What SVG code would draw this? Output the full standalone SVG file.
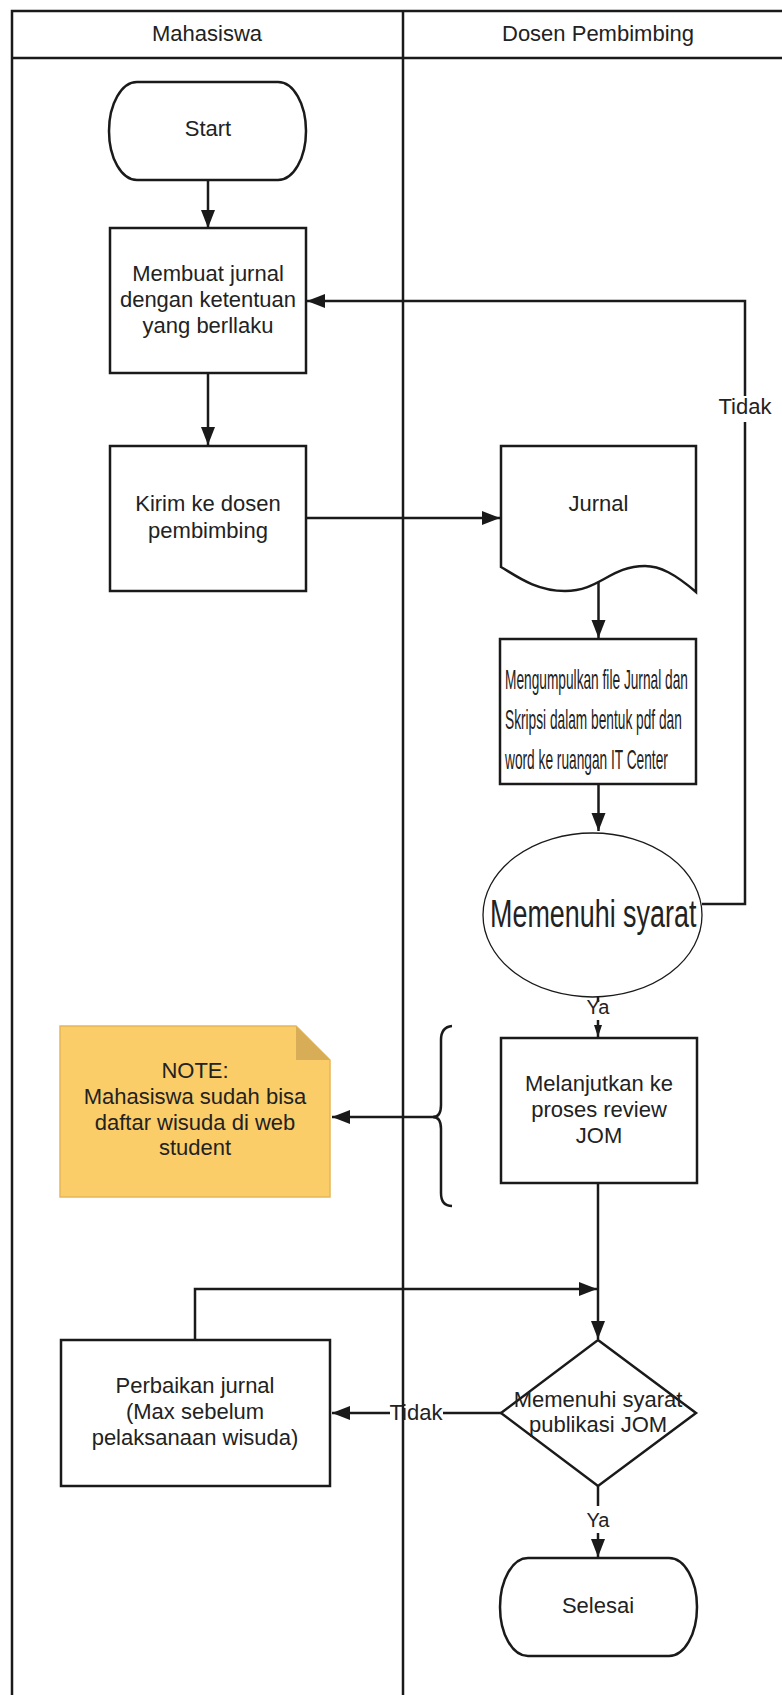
<svg xmlns="http://www.w3.org/2000/svg" width="782" height="1695" viewBox="0 0 782 1695">
<style>
text{font-family:"Liberation Sans",Arial,sans-serif;font-size:22px;fill:#222;text-anchor:middle}
.cond{font-size:28px;text-anchor:start}
.shape{fill:#fff;stroke:#1a1a1a;stroke-width:2.5}
.lane{fill:none;stroke:#1a1a1a;stroke-width:2.5}
.conn{fill:none;stroke:#1a1a1a;stroke-width:2.5}
.lbl{fill:#fff;stroke:none}
</style>
<defs>
<marker id="arr" markerUnits="userSpaceOnUse" markerWidth="20" markerHeight="16" refX="18" refY="7" orient="auto">
<path d="M0,0 L18,7 L0,14 Z" fill="#1a1a1a"/>
</marker>
<marker id="arrs" markerUnits="userSpaceOnUse" markerWidth="14" markerHeight="10" refX="12" refY="4" orient="auto">
<path d="M0,0 L12,4 L0,8 Z" fill="#1a1a1a"/>
</marker>
</defs>
<rect width="782" height="1695" fill="#fff"/>
<g id="lanes">
<path class="lane" d="M782,11 H12 V1700 M12,58 H782 M403,11 V1700"/>
<text x="207" y="41">Mahasiswa</text>
<text x="598" y="41">Dosen Pembimbing</text>
</g>
<g id="connectors">
<path class="conn" d="M208,180 V228" marker-end="url(#arr)"/>
<path class="conn" d="M208,373 V445" marker-end="url(#arr)"/>
<path class="conn" d="M306,518 H500" marker-end="url(#arr)"/>
<path class="conn" d="M598.5,580 V638" marker-end="url(#arr)"/>
<path class="conn" d="M598.5,784 V831" marker-end="url(#arr)"/>
<path class="conn" d="M702,904 H745 V301 H307" marker-end="url(#arr)"/>
<rect class="lbl" x="719" y="396" width="52" height="26"/>
<text x="745" y="414">Tidak</text>
<path class="conn" d="M598,997 V1002"/>
<path class="conn" d="M598,1020 V1037" marker-end="url(#arrs)"/>
<text x="598" y="1014" style="font-size:20px">Ya</text>
<path class="conn" d="M435,1117 H332" marker-end="url(#arr)"/>
<path class="conn" d="M598,1183 V1339" marker-end="url(#arr)"/>
<path class="conn" d="M195,1340 V1289 H597" marker-end="url(#arr)"/>
<path class="conn" d="M501,1413 H443"/>
<path class="conn" d="M390,1413 H332" marker-end="url(#arr)"/>
<text x="416" y="1420">Tidak</text>
<path class="conn" d="M598,1486 V1506"/>
<path class="conn" d="M598,1533 V1557" marker-end="url(#arr)"/>
<text x="598" y="1527" style="font-size:20px">Ya</text>
</g>
<g id="start">
<path class="shape" d="M137,82 H278 A28,49 0 0 1 278,180 H137 A28,49 0 0 1 137,82 Z"/>
<text x="208" y="136">Start</text>
</g>
<g id="membuat">
<rect class="shape" x="110" y="228" width="196" height="145"/>
<text x="208" y="281">Membuat jurnal</text>
<text x="208" y="307">dengan ketentuan</text>
<text x="208" y="333">yang berllaku</text>
</g>
<g id="kirim">
<rect class="shape" x="110" y="446" width="196" height="145"/>
<text x="208" y="511">Kirim ke dosen</text>
<text x="208" y="538">pembimbing</text>
</g>
<g id="jurnal">
<path class="shape" d="M501,446 H696 V592 C675,574 660,566 645,566 C610,566 600,591 565,591 C535,591 515,575 501,567 Z"/>
<text x="598.5" y="511">Jurnal</text>
</g>
<g id="mengumpulkan">
<rect class="shape" x="500" y="639" width="196" height="145"/>
<text class="cond" transform="translate(505,689) scale(0.49,1)">Mengumpulkan file Jurnal dan</text>
<text class="cond" transform="translate(505,729) scale(0.49,1)">Skripsi dalam bentuk pdf dan</text>
<text class="cond" transform="translate(505,769) scale(0.49,1)">word ke ruangan IT Center</text>
</g>
<g id="syarat">
<ellipse cx="592.5" cy="915" rx="109.5" ry="82" fill="#fff" stroke="#1a1a1a" stroke-width="1.3"/>
<text style="font-size:39px;text-anchor:start" transform="translate(490,927) scale(0.69,1)">Memenuhi syarat</text>
</g>
<g id="note">
<path d="M60,1026 H296 L330,1060 V1197 H60 Z" fill="#FBCD68" stroke="#E6B758" stroke-width="1.5"/>
<path d="M296,1026 V1060 H330 Z" fill="#D8AD58"/>
<text x="195" y="1078">NOTE:</text>
<text x="195" y="1104">Mahasiswa sudah bisa</text>
<text x="195" y="1130">daftar wisuda di web</text>
<text x="195" y="1155">student</text>
</g>
<g id="brace">
<path class="conn" d="M452,1026 Q441,1027 441,1040 V1105 Q441,1117 433,1117 Q441,1117 441,1129 V1193 Q441,1206 452,1206"/>
</g>
<g id="melanjutkan">
<rect class="shape" x="501" y="1038" width="196" height="145"/>
<text x="599" y="1091">Melanjutkan ke</text>
<text x="599" y="1117">proses review</text>
<text x="599" y="1143">JOM</text>
</g>
<g id="publikasi">
<path class="shape" d="M598,1340 L696,1413 L598,1486 L501,1413 Z"/>
<text x="598" y="1407">Memenuhi syarat</text>
<text x="598" y="1432">publikasi JOM</text>
</g>
<g id="perbaikan">
<rect class="shape" x="61" y="1340" width="269" height="146"/>
<text x="195" y="1393">Perbaikan jurnal</text>
<text x="195" y="1419">(Max sebelum</text>
<text x="195" y="1445">pelaksanaan wisuda)</text>
</g>
<g id="selesai">
<path class="shape" d="M528,1558 H669 A28,49 0 0 1 669,1656 H528 A28,49 0 0 1 528,1558 Z"/>
<text x="598" y="1613">Selesai</text>
</g>
</svg>
